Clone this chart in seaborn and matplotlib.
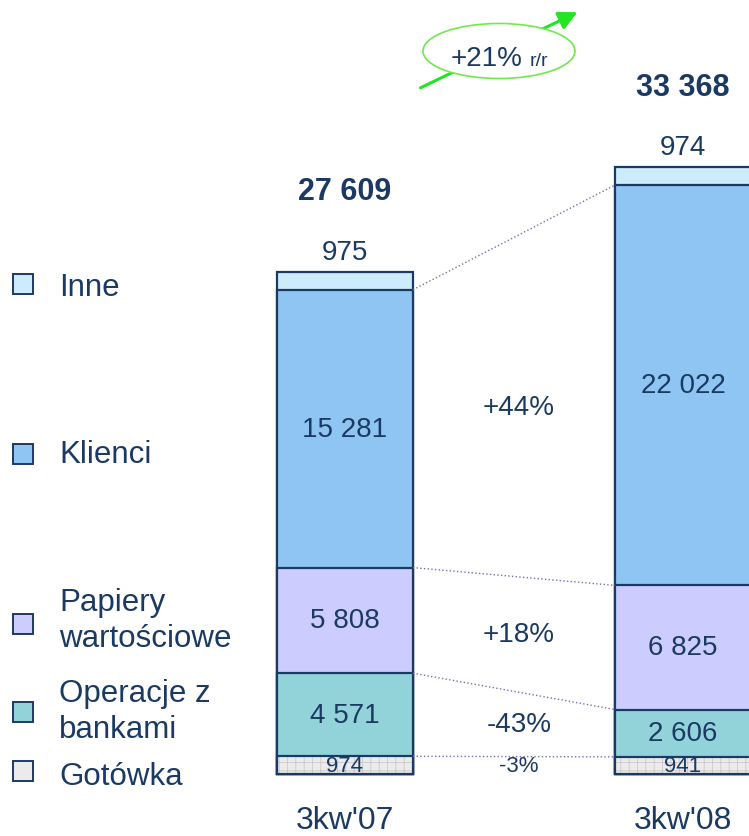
import numpy as np
import pandas as pd
import seaborn as sns
import matplotlib.pyplot as plt
from matplotlib.patches import Ellipse, Rectangle

# data
periods = ["3kw'07", "3kw'08"]
segments = ["Gotówka", "Operacje z\nbankami", "Papiery\nwartościowe", "Klienci", "Inne"]
gotowka = [974, 941]
operacje = [4571, 2606]
papiery = [5808, 6825]
klienci = [15281, 22022]
inne = [975, 974]
totals = [27609, 33368]
changes = ["-3%", "-43%", "+18%", "+44%"]
total_change = "+21%"

colors = ["#EBEBEB", "#92D3DA", "#CCCCFF", "#8FC5F2", "#CCEBFC"]
navy = "#1B3A63"
W, H = 749, 837


def fmt(v):
    return f"{v:,}".replace(",", " ")


def px(x, y):
    # pixel position -> axes fraction (axes fill the whole figure)
    return x / W, 1 - y / H


sns.set_theme(style="white")
plt.rcParams['font.family'] = ['Liberation Sans', 'DejaVu Sans']
plt.rcParams['hatch.linewidth'] = 0.5

values = np.array([gotowka, operacje, papiery, klienci, inne])
cum = values.cumsum(axis=0)
df = pd.DataFrame({
    'period': np.tile(periods, len(segments)),
    'segment': np.repeat(segments, len(periods)),
    'top': cum.flatten(),
})

fig = plt.figure(figsize=(W / 100, H / 100), dpi=100)
ax = fig.add_axes([0, 0, 1, 1])
bw = 0.402
lw = 1.6

# draw the cumulative layers from the top down
for i in reversed(range(len(segments))):
    d = df[df['segment'] == segments[i]]
    if i == 0:
        sns.barplot(data=d, x='period', y='top', color=colors[i], width=bw, errorbar=None,
                    saturation=1, edgecolor='#C4C4C4', linewidth=0, hatch='++', ax=ax)
        sns.barplot(data=d, x='period', y='top', color=navy, width=bw, errorbar=None,
                    saturation=1, fill=False, linewidth=lw, ax=ax)
    else:
        sns.barplot(data=d, x='period', y='top', color=colors[i], width=bw, errorbar=None,
                    saturation=1, edgecolor=navy, linewidth=lw, ax=ax)

ax.set_xlim(-1.0207, 1.1953)
ax.set_ylim(-62 * 55, 775 * 55)
ax.axis('off')

# values inside segments (Inne goes above the bar)
for j in range(len(periods)):
    for i in range(len(segments) - 1):
        mid = cum[i, j] - values[i, j] / 2
        size = 16 if i == 0 else 20
        ax.text(j, mid, fmt(values[i, j]), ha='center', va='center', fontsize=size, color=navy)
    ax.annotate(fmt(inne[j]), (j, totals[j]), xytext=(0, 5), textcoords='offset points',
                ha='center', va='bottom', fontsize=20, color=navy)
    ax.annotate(fmt(totals[j]), (j, totals[j]), xytext=(0, 58), textcoords='offset points',
                ha='center', va='center', fontsize=22, fontweight='bold', color=navy)
    ax.annotate(periods[j], (j, 0), xytext=(0, -33), textcoords='offset points',
                ha='center', va='center', fontsize=23, color=navy)

# dotted connectors and year-over-year changes
for i in range(4):
    ax.plot([bw / 2, 1 - bw / 2], [cum[i, 0], cum[i, 1]], ls=':', lw=1, color='#7A6CB0')
    mid = ((cum[i, 0] - values[i, 0] / 2) + (cum[i, 1] - values[i, 1] / 2)) / 2
    ax.text(0.515, mid, changes[i], ha='center', va='center',
            fontsize=16 if i == 0 else 20, color=navy)

# legend on the left
legend_y = [772, 713, 625, 455, 285]
text_y = [777, 712, 621, 455, 288]
for i in range(len(segments)):
    x0, y0 = px(13, legend_y[i] + 10)
    ax.add_patch(Rectangle((x0, y0), 20 / W, 20 / H, transform=ax.transAxes,
                           facecolor=colors[i], edgecolor=navy, lw=1.4))
    tx, ty = px(59, text_y[i])
    ax.text(tx, ty, segments[i], transform=ax.transAxes, ha='left', va='center',
            fontsize=22.5, color=navy, linespacing=1.25)

# growth badge with arrow
ax.annotate('', xy=px(580, 12), xytext=px(418, 90), xycoords='axes fraction',
            textcoords='axes fraction',
            arrowprops=dict(arrowstyle='-|>', color='#22E622', lw=2.2, mutation_scale=28))
ax.add_patch(Ellipse(px(499, 52), 152 / W, 55 / H, transform=ax.transAxes,
                     facecolor='white', edgecolor='#6FEA4A', lw=1.2, zorder=5))
ax.text(*px(522, 66), total_change, transform=ax.transAxes, ha='right', va='baseline',
        fontsize=20, color=navy, zorder=6)
ax.text(*px(530, 66), 'r/r', transform=ax.transAxes, ha='left', va='baseline',
        fontsize=14, color=navy, zorder=6)

plt.savefig('out.png', dpi=100)
